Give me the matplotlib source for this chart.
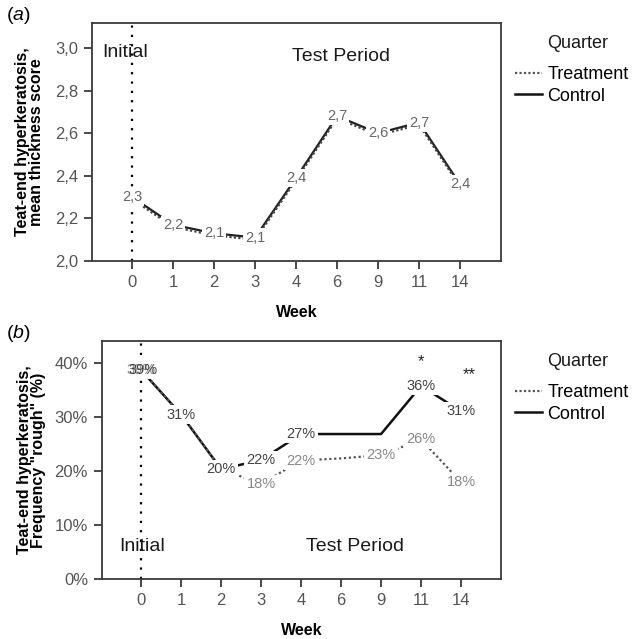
import matplotlib
matplotlib.use("Agg")
import matplotlib.pyplot as plt
from matplotlib.lines import Line2D

plt.rcParams['font.family'] = ['Liberation Sans', 'DejaVu Sans']
plt.rcParams['mathtext.fontset'] = 'custom'
plt.rcParams['mathtext.it'] = 'Liberation Sans:italic'
plt.rcParams['mathtext.rm'] = 'Liberation Sans'

weeks = ["0", "1", "2", "3", "4", "6", "9", "11", "14"]

# (a) mean thickness score
thick_control = [2.30, 2.17, 2.13, 2.11, 2.39, 2.68, 2.60, 2.65, 2.36]
thick_treatment = [2.29, 2.16, 2.12, 2.10, 2.38, 2.67, 2.59, 2.64, 2.35]
thick_labels = ["2,3", "2,2", "2,1", "2,1", "2,4", "2,7", "2,6", "2,7", "2,4"]

# (b) frequency "rough" (%)
rough_control = [38.6, 30.4, 20.3, 22.0, 26.8, 26.8, 26.8, 35.7, 31.0]
rough_treatment = [38.6, 30.4, 20.3, 17.6, 21.9, 22.3, 22.9, 25.8, 17.9]
rough_control_labels = ["39%", "31%", "20%", "22%", "27%", None, None, "36%", "31%"]
rough_treatment_labels = ["39%", None, None, "18%", "22%", None, "23%", "26%", "18%"]

AX_COL = '#3a3a3a'
TICK_COL = '#555555'

fig = plt.figure(figsize=(6.42, 6.39), dpi=100)
ax_a = fig.add_axes([92 / 642, 1 - 261 / 639, 409 / 642, 238 / 639])
ax_b = fig.add_axes([102 / 642, 1 - 579 / 639, 399 / 642, 238 / 639])

x = list(range(len(weeks)))


def style_axis(ax):
    for s in ax.spines.values():
        s.set_color(AX_COL)
        s.set_linewidth(1.3)
    ax.tick_params(direction='out', length=6, width=1.3, color=AX_COL,
                   labelcolor=TICK_COL, labelsize=12, pad=4)
    ax.set_xticks(x)
    ax.set_xticklabels(weeks)
    ax.set_xlim(-0.98, 9)
    ax.set_xlabel("Week", fontsize=11.5, fontweight='bold', labelpad=11)
    ax.axvline(0, color='black', lw=1.6, linestyle=(0, (1, 3.2)), zorder=1)


def label(ax, xi, yi, txt, color, dx=0, box=True):
    ax.annotate(txt, (xi, yi), xytext=(dx, 0), textcoords='offset points',
                ha='center', va='center', fontsize=10.5, color=color, zorder=5,
                bbox=dict(boxstyle='square,pad=0.15', fc='white', ec='none') if box else None)


# ---- panel (a)
style_axis(ax_a)
ax_a.plot(x, thick_control, color='#222222', lw=1.6, zorder=2)
ax_a.plot(x, thick_treatment, color='#444444', lw=1.6, linestyle=(0, (1, 1)), zorder=3)
for xi, yi, t in zip(x, thick_control, thick_labels):
    label(ax_a, xi, yi, t, '#666666')
ax_a.set_ylim(2.0, 3.117)
ax_a.set_yticks([2.0, 2.2, 2.4, 2.6, 2.8, 3.0])
ax_a.set_yticklabels(["2,0", "2,2", "2,4", "2,6", "2,8", "3,0"])
ax_a.set_ylabel("Teat-end hyperkeratosis,\nmean thickness score", fontsize=11.5,
                fontweight='bold', linespacing=0.9, labelpad=8)
ax_a.text(-0.72, 2.98, "Initial", fontsize=14, ha='left', va='center', color='#1a1a1a')
ax_a.text(5.1, 2.96, "Test Period", fontsize=14, ha='center', va='center', color='#1a1a1a')

# ---- panel (b)
style_axis(ax_b)
ax_b.plot(x, rough_control, color='#111111', lw=1.8, zorder=2)
ax_b.plot(x, rough_treatment, color='#555555', lw=1.6, linestyle=(0, (1, 1.2)), zorder=3)
for xi, yi, t in zip(x, rough_treatment, rough_treatment_labels):
    if t:
        label(ax_b, xi, yi, t, '#888888')
for xi, yi, t in zip(x, rough_control, rough_control_labels):
    if t:
        # week 0 labels of both quarters sit on top of each other
        label(ax_b, xi, yi, t, '#444444', dx=1.5 if xi == 0 else 0, box=(xi != 0))
ax_b.set_ylim(0, 44)
ax_b.set_yticks([0, 10, 20, 30, 40])
ax_b.set_yticklabels(["0%", "10%", "20%", "30%", "40%"])
ax_b.set_ylabel("Teat-end hyperkeratosis,\nFrequency \"rough\" (%)", fontsize=11.5,
                fontweight='bold', linespacing=0.9, labelpad=6)
ax_b.text(-0.55, 6.0, "Initial", fontsize=14, ha='left', va='center', color='#1a1a1a')
ax_b.text(5.34, 6.0, "Test Period", fontsize=14, ha='center', va='center', color='#1a1a1a')
ax_b.text(7, 40.2, "*", fontsize=12, ha='center', va='center', color='#222222')
ax_b.text(8.2, 37.8, "**", fontsize=12, ha='center', va='center', color='#222222')

# panel letters
fig.text(6 / 642, 1 - 16 / 639, "($\\it{a}$)", fontsize=14, ha='left', va='center')
fig.text(6 / 642, 1 - 334 / 639, "($\\it{b}$)", fontsize=14, ha='left', va='center')

# legends
handles = [Line2D([], [], color='#555555', lw=1.6, linestyle=(0, (1, 1))),
           Line2D([], [], color='#111111', lw=1.8)]
for title_y, top in ((43, 66), (362, 384)):
    fig.text(578 / 642, 1 - title_y / 639, "Quarter", fontsize=13,
             ha='center', va='center', color='#1a1a1a')
    fig.legend(handles, ["Treatment", "Control"],
               loc='upper left', bbox_to_anchor=(515 / 642, 1 - top / 639),
               frameon=False, fontsize=13,
               handlelength=1.5, handletextpad=0.3, labelspacing=0.25,
               borderpad=0, borderaxespad=0)

fig.savefig("out.png", dpi=100)
